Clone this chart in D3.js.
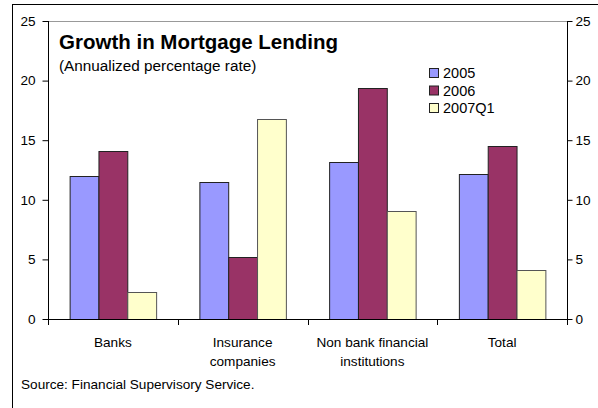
<!DOCTYPE html>
<html>
<head>
<meta charset="utf-8">
<script src="https://cdn.jsdelivr.net/npm/d3@7/dist/d3.min.js"></script>
<style>
  html, body { margin: 0; padding: 0; background: #fff; }
  svg text { font-family: Arial, "Liberation Sans", sans-serif; fill: #000; }
</style>
</head>
<body>
<svg id="chart" width="598" height="408"></svg>
<script>
// Mortgage lending growth by lender type
const categories = [["Banks"], ["Insurance", "companies"], ["Non bank financial", "institutions"], ["Total"]];
const seriesNames = ["2005", "2006", "2007Q1"];
const values2005 = [12.0, 11.5, 13.2, 12.2];
const values2006 = [14.1, 5.2, 19.4, 14.5];
const values2007Q1 = [2.3, 16.8, 9.1, 4.1];
const yTicks = [0, 5, 10, 15, 20, 25];

const colors = ["#9999FF", "#993366", "#FFFFCC"];
const seriesValues = [values2005, values2006, values2007Q1];

const svg = d3.select("#chart");
const plot = { left: 48, right: 567, top: 21, bottom: 319 };
const axisFont = "13.6px";

const x0 = d3.scaleBand()
  .domain(d3.range(categories.length))
  .range([plot.left, plot.right])
  .paddingInner(0).paddingOuter(0);

// three bars per group, with a 150% gap split around each group
const groupInner = x0.bandwidth() * 3 / 4.5;
const x1 = d3.scaleBand()
  .domain(d3.range(seriesNames.length))
  .range([0, groupInner]);

const y = d3.scaleLinear().domain([0, 25]).range([plot.bottom, plot.top]);

// outer frame (left and top edges)
svg.append("line").attr("x1", 12.5).attr("x2", 12.5).attr("y1", 4.5).attr("y2", 408)
  .attr("stroke", "#000").attr("stroke-width", 1);
svg.append("line").attr("x1", 12).attr("x2", 598).attr("y1", 4.5).attr("y2", 4.5)
  .attr("stroke", "#000").attr("stroke-width", 1);

// top edge of the plot area
svg.append("line").attr("x1", plot.left).attr("x2", plot.right)
  .attr("y1", plot.top + 0.5).attr("y2", plot.top + 0.5)
  .attr("stroke", "#999").attr("stroke-width", 1);

// bars
const groups = svg.append("g").selectAll("g")
  .data(categories)
  .join("g")
  .attr("transform", (d, i) => `translate(${x0(i) + (x0.bandwidth() - groupInner) / 2},0)`);

groups.selectAll("rect")
  .data((d, i) => seriesValues.map((s, j) => ({ s: j, v: s[i] })))
  .join("rect")
  .attr("x", d => x1(d.s) + 0.5)
  .attr("y", d => Math.round(y(d.v)) + 0.5)
  .attr("width", x1.bandwidth())
  .attr("height", d => plot.bottom - Math.round(y(d.v)))
  .attr("fill", d => colors[d.s])
  .attr("stroke", d => d.s === 2 ? "#555" : "#222")
  .attr("stroke-width", 1);

// left and right value axes
const yLeft = d3.axisLeft(y).tickValues(yTicks).tickSize(6).tickPadding(7);
const gl = svg.append("g").attr("transform", `translate(${plot.left + 0.5},0)`).call(yLeft);
const yRight = d3.axisRight(y).tickValues(yTicks).tickSize(5).tickPadding(3);
const gr = svg.append("g").attr("transform", `translate(${plot.right + 0.5},0)`).call(yRight);

[gl, gr].forEach(g => {
  g.select(".domain").attr("stroke", "#000").attr("d", `M0,${plot.top}V${plot.bottom + 0.5}`);
  g.selectAll("text").style("font-size", axisFont).attr("font-family", "Arial, 'Liberation Sans', sans-serif");
  g.selectAll(".tick line").attr("stroke", "#000");
});

// category axis with ticks between groups
const boundaries = d3.range(categories.length + 1).map(i => plot.left + i * x0.bandwidth());
svg.append("line").attr("x1", plot.left).attr("x2", plot.right)
  .attr("y1", plot.bottom + 0.5).attr("y2", plot.bottom + 0.5).attr("stroke", "#000");
svg.append("g").selectAll("line").data(boundaries).join("line")
  .attr("x1", d => Math.round(d) + 0.5).attr("x2", d => Math.round(d) + 0.5)
  .attr("y1", plot.bottom).attr("y2", plot.bottom + 6).attr("stroke", "#000");

svg.append("g").selectAll("text").data(categories).join("text")
  .attr("x", (d, i) => x0(i) + x0.bandwidth() / 2)
  .attr("y", 347)
  .attr("text-anchor", "middle")
  .style("font-size", axisFont)
  .selectAll("tspan").data(d => d).join("tspan")
  .attr("x", function () { return d3.select(this.parentNode).attr("x"); })
  .attr("dy", (d, i) => i === 0 ? 0 : 18.5)
  .text(d => d);

// title block
svg.append("text").attr("x", 59).attr("y", 49)
  .style("font-size", "20.5px").style("font-weight", "bold")
  .text("Growth in Mortgage Lending");
svg.append("text").attr("x", 59).attr("y", 71)
  .style("font-size", "15.3px")
  .text("(Annualized percentage rate)");

// legend
const legend = svg.append("g").attr("transform", "translate(429,68)");
seriesNames.forEach((name, i) => {
  legend.append("rect").attr("x", 0.5).attr("y", i * 17.5 + 0.5).attr("width", 9).attr("height", 9)
    .attr("fill", colors[i]).attr("stroke", "#222");
  legend.append("text").attr("x", 14).attr("y", i * 17.5 + 10)
    .style("font-size", "14.5px").text(name);
});

// source note
svg.append("text").attr("x", 21).attr("y", 389)
  .style("font-size", axisFont)
  .text("Source: Financial Supervisory Service.");
</script>
</body>
</html>
